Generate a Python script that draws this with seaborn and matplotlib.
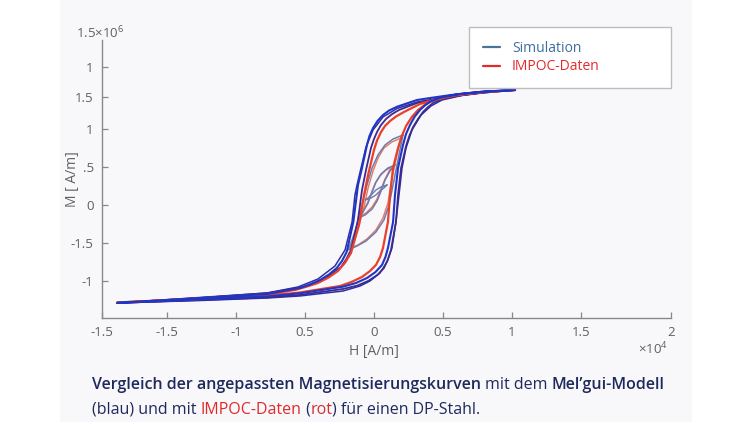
import matplotlib
matplotlib.use("Agg")
import numpy as np
import pandas as pd
import matplotlib.pyplot as plt
import matplotlib.transforms as mtransforms
from matplotlib.lines import Line2D
from matplotlib.patches import Rectangle
import seaborn as sns

# ---------------- data (H in 1e4 A/m, M in 1e6 A/m) ----------------
sim1_desc_H = [1.022, 0.768, 0.587, 0.457, 0.312, 0.167, 0.109, 0.065, 0.025, -0.007, -0.033, -0.051, -0.087,
               -0.116, -0.125, -0.150, -0.198, -0.232, -0.270, -0.326, -0.391, -0.464, -0.536, -0.775, -1.261, -1.862]
sim1_desc_M = [1.513, 1.487, 1.454, 1.421, 1.382, 1.293, 1.243, 1.184, 1.105, 1.013, 0.908, 0.789, 0.487,
               0.263, 0.132, -0.224, -0.618, -0.737, -0.829, -0.914, -0.987, -1.046, -1.092, -1.171, -1.224, -1.289]
sim1_asc_H = [-1.261, -0.775, -0.536, -0.225, -0.130, -0.051, 0.011, 0.058, 0.083, 0.101, 0.138, 0.152, 0.174,
              0.210, 0.232, 0.261, 0.293, 0.333, 0.370, 0.406, 0.478, 0.623, 0.804, 1.022]
sim1_asc_M = [-1.243, -1.204, -1.162, -1.075, -1.026, -0.961, -0.882, -0.789, -0.684, -0.566, -0.224, 0.132, 0.487,
              0.789, 0.934, 1.053, 1.158, 1.250, 1.312, 1.359, 1.412, 1.461, 1.493, 1.513]

sim2_desc_H = [1.022, 0.768, 0.587, 0.457, 0.312, 0.181, 0.130, 0.087, 0.050, 0.022, -0.002, -0.022, -0.058,
               -0.087, -0.116, -0.167, -0.200, -0.239, -0.300, -0.362, -0.440, -0.514, -0.768, -1.261, -1.862]
sim2_desc_M = [1.513, 1.474, 1.434, 1.395, 1.342, 1.250, 1.195, 1.132, 1.050, 0.961, 0.860, 0.750, 0.461,
               0.197, -0.197, -0.592, -0.710, -0.816, -0.900, -0.974, -1.030, -1.079, -1.158, -1.224, -1.289]
sim2_asc_H = [-1.261, -0.775, -0.536, -0.225, -0.120, -0.043, 0.025, 0.072, 0.100, 0.123, 0.159, 0.174, 0.196,
              0.232, 0.256, 0.283, 0.318, 0.355, 0.392, 0.428, 0.500, 0.638, 0.812, 1.022]
sim2_asc_M = [-1.250, -1.217, -1.184, -1.105, -1.060, -1.000, -0.920, -0.829, -0.720, -0.592, -0.224, 0.132, 0.487,
              0.776, 0.910, 1.026, 1.130, 1.224, 1.290, 1.342, 1.401, 1.447, 1.487, 1.513]

sim3_desc_H = [1.022, 0.768, 0.587, 0.457, 0.312, 0.167, 0.065, -0.007, -0.058, -0.094, -0.123, -0.138, -0.159,
               -0.210, -0.283, -0.406, -0.551, -0.775, -1.261, -1.862]
sim3_desc_M = [1.513, 1.480, 1.441, 1.401, 1.355, 1.270, 1.158, 0.987, 0.763, 0.487, 0.263, 0.132, -0.224,
               -0.592, -0.803, -0.974, -1.079, -1.158, -1.217, -1.289]
sim3_asc_H = [-1.261, -0.775, -0.536, -0.225, -0.101, -0.029, 0.043, 0.094, 0.130, 0.159, 0.181, 0.203, 0.232,
              0.275, 0.341, 0.413, 0.493, 0.638, 0.812, 1.022]
sim3_asc_M = [-1.257, -1.224, -1.197, -1.132, -1.066, -1.000, -0.895, -0.750, -0.566, -0.224, 0.132, 0.487, 0.750,
              0.987, 1.184, 1.303, 1.382, 1.441, 1.480, 1.513]

imp_desc_H = [1.022, 0.768, 0.587, 0.457, 0.333, 0.217, 0.160, 0.116, 0.080, 0.051, 0.022, 0.000, -0.043,
              -0.072, -0.109, -0.167, -0.210, -0.261, -0.330, -0.406, -0.490, -0.572, -0.790, -1.261, -1.862]
imp_desc_M = [1.513, 1.480, 1.441, 1.395, 1.329, 1.224, 1.165, 1.105, 1.040, 0.961, 0.850, 0.724, 0.395,
              0.132, -0.263, -0.632, -0.760, -0.868, -0.955, -1.026, -1.075, -1.118, -1.178, -1.230, -1.283]
imp_asc_H = [-1.261, -0.790, -0.536, -0.246, -0.160, -0.087, -0.030, 0.014, 0.045, 0.065, 0.101, 0.116, 0.138,
             0.174, 0.200, 0.232, 0.275, 0.319, 0.370, 0.420, 0.551, 0.768, 1.022]
imp_asc_M = [-1.237, -1.197, -1.151, -1.066, -1.010, -0.947, -0.870, -0.789, -0.680, -0.566, -0.224, 0.132, 0.487,
             0.750, 0.900, 1.039, 1.160, 1.250, 1.320, 1.368, 1.441, 1.487, 1.513]

# minor loops (closed)
simA_H = [0.210, 0.138, 0.080, 0.029, -0.014, -0.051, -0.087, -0.123, -0.159, -0.188,
          -0.123, -0.058, 0.014, 0.072, 0.109, 0.138, 0.167, 0.188, 0.210]
simA_M = [0.921, 0.868, 0.789, 0.658, 0.487, 0.263, 0.000, -0.263, -0.461, -0.592,
          -0.539, -0.474, -0.355, -0.197, 0.000, 0.263, 0.526, 0.724, 0.921]
simB_H = [0.152, 0.101, 0.051, 0.014, -0.014, -0.043, -0.080, -0.116,
          -0.065, -0.014, 0.022, 0.051, 0.080, 0.116, 0.152]
simB_M = [0.526, 0.487, 0.408, 0.303, 0.171, 0.026, -0.092, -0.171,
          -0.132, -0.053, 0.053, 0.184, 0.329, 0.447, 0.526]
simC_H = [0.094, 0.051, 0.014, -0.014, -0.043, -0.065, -0.022, 0.014, 0.043, 0.072, 0.094]
simC_M = [0.263, 0.237, 0.197, 0.145, 0.092, 0.066, 0.092, 0.132, 0.184, 0.224, 0.263]
impA_H = [0.196, 0.130, 0.072, 0.029, -0.007, -0.043, -0.072, -0.109, -0.145, -0.174,
          -0.116, -0.051, 0.014, 0.065, 0.101, 0.123, 0.152, 0.174, 0.196]
impA_M = [0.882, 0.829, 0.750, 0.618, 0.447, 0.224, -0.026, -0.276, -0.461, -0.566,
          -0.526, -0.447, -0.329, -0.171, 0.026, 0.276, 0.539, 0.724, 0.882]
impB_H = [0.138, 0.087, 0.043, 0.007, -0.022, -0.051, -0.080, -0.101,
          -0.058, -0.014, 0.022, 0.051, 0.080, 0.109, 0.138]
impB_M = [0.500, 0.461, 0.382, 0.276, 0.145, 0.013, -0.079, -0.145,
          -0.105, -0.026, 0.079, 0.211, 0.342, 0.447, 0.500]

x_tick_pos = [-1.971, -1.5, -1.0, -0.5, 0.0, 0.5, 1.0, 1.5, 2.152]
x_tick_labels = ["-1.5", "-1.5", "-1", "0.5", "0", "0.5", "1", "1.5", "2"]
y_tick_pos = [1.816, 1.421, 1.0, 0.5, 0.0, -0.5, -1.0]
y_tick_labels = ["1", "1.5", "1", ".5", "0", "-1.5", "-1"]

legend_labels = ["Simulation", "IMPOC-Daten"]

# ---------------- styling ----------------
sns.set_theme(style="white")
plt.rcParams["font.family"] = ["Open Sans", "DejaVu Sans"]
plt.rcParams["mathtext.default"] = "regular"

BLUE = "#1f36c4"
PURPLE = "#3f2a8c"
INDIGO = "#2c2fa6"
RED = "#e8402a"
GREYBLUE = "#6c7cb0"
LIGHTRED = "#e6705c"
TICK = "#606060"
NAVY = "#1f2a5c"

fig = plt.figure(figsize=(7.5, 4.22), dpi=100)
fig.patch.set_facecolor("white")
fig.patches.append(Rectangle((60 / 750, 0), 632 / 750, 1, transform=fig.transFigure,
                             facecolor="#f8f7fa", edgecolor="none", zorder=-5))

ax = fig.add_axes([102 / 750, 1 - 318 / 422, 569 / 750, 278 / 422])
ax.set_facecolor("none")
ax.set_zorder(2)

curves = [
    ("impA", impA_H, impA_M, LIGHTRED, 1.0, 0.95),
    ("impB", impB_H, impB_M, LIGHTRED, 1.0, 0.95),
    ("simA", simA_H, simA_M, GREYBLUE, 1.1, 1.0),
    ("simB", simB_H, simB_M, GREYBLUE, 1.1, 1.0),
    ("simC", simC_H, simC_M, GREYBLUE, 1.0, 1.0),
    ("sim3", sim3_desc_H + sim3_asc_H, sim3_desc_M + sim3_asc_M, INDIGO, 1.1, 1.0),
    ("sim2", sim2_desc_H + sim2_asc_H, sim2_desc_M + sim2_asc_M, PURPLE, 1.3, 1.0),
    ("imp", imp_desc_H + imp_asc_H, imp_desc_M + imp_asc_M, RED, 1.6, 1.0),
    ("sim1", sim1_desc_H + sim1_asc_H, sim1_desc_M + sim1_asc_M, BLUE, 1.5, 1.0),
]
for name, H, M, col, lw, a in curves:
    df = pd.DataFrame({"H": H, "M": M})
    sns.lineplot(data=df, x="H", y="M", sort=False, estimator=None, color=col,
                 linewidth=lw, alpha=a, ax=ax)

ax.set_xlim(-1.971, 2.152)
ax.set_ylim(-1.487, 2.171)
ax.set_xticks(x_tick_pos)
ax.set_xticklabels(x_tick_labels)
ax.set_yticks(y_tick_pos)
ax.set_yticklabels(y_tick_labels)
ax.tick_params(direction="in", length=4, width=0.9, colors="#888888", labelcolor=TICK,
               labelsize=9.5, pad=6, bottom=True, left=True)
for s in ["top", "right"]:
    ax.spines[s].set_visible(False)
for s in ["left", "bottom"]:
    ax.spines[s].set_color("#888888")
    ax.spines[s].set_linewidth(1.0)

ax.set_xlabel("H [A/m]", color=TICK, fontsize=10)
ax.set_ylabel("M [ A/m]", color=TICK, fontsize=10)
ax.xaxis.set_label_coords((374 - 102) / 569, -(352 - 318) / 278)
ax.yaxis.set_label_coords(-(102 - 72) / 569, 0.5)
ax.xaxis.label.set_va("center")
ax.yaxis.label.set_va("center")

fig.text(100 / 750, 1 - 33 / 422, "1.5×10$^{6}$", color=TICK, fontsize=9.5, ha="center", va="center")
fig.text(653 / 750, 1 - 349 / 422, "×10$^{4}$", color=TICK, fontsize=9.5, ha="center", va="center")

handles = [Line2D([], [], color="#4a7399", lw=1.6), Line2D([], [], color="#e22b2b", lw=1.6)]
leg = fig.legend(handles, legend_labels, loc="upper left",
                 bbox_to_anchor=(469 / 750, 1 - 84 / 422, 202 / 750, 57 / 422),
                 bbox_transform=fig.transFigure, mode="expand", fancybox=False,
                 frameon=True, edgecolor="#bdbdbd", facecolor="white", framealpha=1,
                 fontsize=10, handlelength=1.2, handletextpad=0.9, borderpad=1.0,
                 labelspacing=0.25, borderaxespad=0)
leg.get_frame().set_linewidth(1.0)
leg.set_zorder(5)
for t, c in zip(leg.get_texts(), ["#3f6d9e", "#e22b2b"]):
    t.set_color(c)

# caption with mixed styles
fig.canvas.draw()
renderer = fig.canvas.get_renderer()


def rich_line(x, y, pieces, size=11.5):
    trans = fig.transFigure
    for s, col, wt in pieces:
        txt = fig.text(x, y, s, transform=trans, color=col, fontsize=size, fontweight=wt,
                       ha="left", va="baseline")
        ex = txt.get_window_extent(renderer)
        trans = mtransforms.offset_copy(txt.get_transform(), fig=fig, x=ex.width, units="dots")


rich_line(92 / 750, 1 - 389 / 422, [
    ("Vergleich der angepassten Magnetisierungskurven ", NAVY, "semibold"),
    ("mit dem ", NAVY, "normal"),
    ("Mel’gui-Modell", NAVY, "semibold"),
])
rich_line(92 / 750, 1 - 414 / 422, [
    ("(blau) und mit ", NAVY, "normal"),
    ("IMPOC-Daten", "#e02a2a", "normal"),
    (" (", NAVY, "normal"),
    ("rot", "#d03030", "normal"),
    (") für einen DP-Stahl.", NAVY, "normal"),
])

fig.savefig("out.png", dpi=100)
